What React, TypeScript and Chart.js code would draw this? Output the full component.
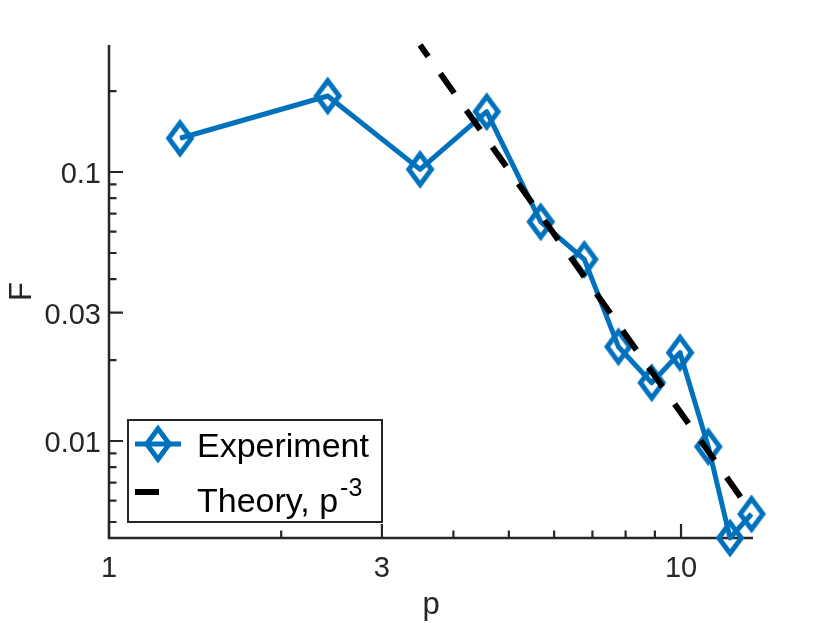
import React, { useEffect, useRef } from "react";
import { Chart, registerables } from "chart.js";

Chart.register(...registerables);

// values (log-log axes)
const pExp = [1.331, 2.412, 3.498, 4.574, 5.685, 6.776, 7.771, 8.888, 9.96, 11.16, 12.18, 13.28];
const fExp = [0.1335, 0.1917, 0.1023, 0.1676, 0.0653, 0.04736, 0.02242, 0.01647, 0.0213, 0.00953, 0.00436, 0.005355];

// theory line p^-3, end points as read
const pTheory = [3.498, 13.28];
const fTheory = [0.2966, 0.00543];

const xMajorTicks = [1, 3, 10];
const xMinorTicks = [2, 4, 5, 6, 7, 8, 9];
const yMajorTicks = [0.01, 0.03, 0.1];
const yMinorTicks = [0.005, 0.006, 0.007, 0.008, 0.009, 0.02, 0.04, 0.05, 0.06, 0.07, 0.08, 0.09, 0.2];
const xTickLabels = ["1", "3", "10"];
const yTickLabels = ["0.01", "0.03", "0.1"];

const BLUE = "#0072BD";
const AXIS = "#262626";
const FONT = '"Liberation Sans", Arial, sans-serif';

function makeDiamond(): HTMLCanvasElement {
  const c = document.createElement("canvas");
  c.width = 36;
  c.height = 46;
  const ctx = c.getContext("2d")!;
  ctx.strokeStyle = BLUE;
  ctx.lineWidth = 5;
  ctx.lineJoin = "miter";
  ctx.beginPath();
  ctx.moveTo(18, 23 - 15.3);
  ctx.lineTo(18 + 11.3, 23);
  ctx.lineTo(18, 23 + 15.3);
  ctx.lineTo(18 - 11.3, 23);
  ctx.closePath();
  ctx.stroke();
  return c;
}

const App: React.FC = () => {
  const canvasRef = useRef<HTMLCanvasElement>(null);
  const chartRef = useRef<Chart | null>(null);

  useEffect(() => {
    if (!canvasRef.current) return;
    if (chartRef.current) chartRef.current.destroy();
    const diamond = makeDiamond();

    const axesPlugin = {
      id: "matlabAxes",
      beforeDatasetsDraw(chart: any) {
        const { ctx, chartArea } = chart;
        const xs = chart.scales.x;
        const ys = chart.scales.y;
        const { left, right, top, bottom } = chartArea;
        ctx.save();
        ctx.strokeStyle = AXIS;
        ctx.lineWidth = 2.5;
        ctx.lineCap = "butt";
        ctx.beginPath();
        ctx.moveTo(left, top);
        ctx.lineTo(left, bottom);
        ctx.lineTo(right, bottom);
        ctx.stroke();

        ctx.lineWidth = 2.2;
        ctx.beginPath();
        xMajorTicks.forEach((v) => {
          const px = xs.getPixelForValue(v);
          ctx.moveTo(px, bottom);
          ctx.lineTo(px, bottom - 14);
        });
        xMinorTicks.forEach((v) => {
          const px = xs.getPixelForValue(v);
          ctx.moveTo(px, bottom);
          ctx.lineTo(px, bottom - 7.5);
        });
        yMajorTicks.forEach((v) => {
          const py = ys.getPixelForValue(v);
          ctx.moveTo(left, py);
          ctx.lineTo(left + 14, py);
        });
        yMinorTicks.forEach((v) => {
          const py = ys.getPixelForValue(v);
          ctx.moveTo(left, py);
          ctx.lineTo(left + 7.5, py);
        });
        ctx.stroke();

        ctx.fillStyle = AXIS;
        ctx.font = `29px ${FONT}`;
        ctx.textBaseline = "alphabetic";
        ctx.textAlign = "center";
        xMajorTicks.forEach((v, i) => {
          ctx.fillText(xTickLabels[i], xs.getPixelForValue(v), bottom + 39);
        });
        ctx.textAlign = "right";
        yMajorTicks.forEach((v, i) => {
          ctx.fillText(yTickLabels[i], left - 8, ys.getPixelForValue(v) + 11);
        });

        ctx.font = `31px ${FONT}`;
        ctx.textAlign = "center";
        ctx.fillText("p", (left + right) / 2, bottom + 76);
        ctx.save();
        ctx.translate(31, (top + bottom) / 2);
        ctx.rotate(-Math.PI / 2);
        ctx.fillText("F", 0, 0);
        ctx.restore();
        ctx.restore();
      },
      afterDatasetsDraw(chart: any) {
        const { ctx } = chart;
        ctx.save();
        const bx = 128, by = 420, bw = 254, bh = 102;
        ctx.fillStyle = "#ffffff";
        ctx.fillRect(bx, by, bw, bh);
        ctx.strokeStyle = AXIS;
        ctx.lineWidth = 2;
        ctx.strokeRect(bx, by, bw, bh);

        // Experiment sample
        ctx.strokeStyle = BLUE;
        ctx.lineWidth = 5;
        ctx.beginPath();
        ctx.moveTo(135, 444);
        ctx.lineTo(181, 444);
        ctx.stroke();
        ctx.drawImage(diamond, 158 - diamond.width / 2, 444 - diamond.height / 2);

        // Theory sample
        ctx.strokeStyle = "#000000";
        ctx.lineWidth = 6;
        ctx.beginPath();
        ctx.moveTo(135, 492);
        ctx.lineTo(159, 492);
        ctx.stroke();

        ctx.fillStyle = "#000000";
        ctx.textAlign = "left";
        ctx.textBaseline = "alphabetic";
        ctx.font = `34px ${FONT}`;
        ctx.fillText("Experiment", 197, 457);
        const t = "Theory, p";
        ctx.fillText(t, 197, 512);
        const w = ctx.measureText(t).width;
        ctx.font = `25px ${FONT}`;
        ctx.fillText("-3", 197 + w + 2, 496);
        ctx.restore();
      },
    };

    chartRef.current = new Chart(canvasRef.current, {
      type: "line",
      data: {
        datasets: [
          {
            label: "Experiment",
            data: pExp.map((p, i) => ({ x: p, y: fExp[i] })),
            borderColor: BLUE,
            borderWidth: 5,
            borderJoinStyle: "round",
            pointStyle: diamond as any,
            pointRadius: 15,
            clip: false as any,
            order: 2,
          },
          {
            label: "Theory, p^-3",
            data: pTheory.map((p, i) => ({ x: p, y: fTheory[i] })),
            borderColor: "#000000",
            borderWidth: 6,
            borderDash: [24, 21],
            borderDashOffset: 10,
            pointRadius: 0,
            clip: false as any,
            order: 1,
          },
        ],
      },
      options: {
        animation: false,
        responsive: false,
        layout: { padding: { left: 109, right: 77, top: 45, bottom: 85 } },
        plugins: { legend: { display: false }, tooltip: { enabled: false } },
        scales: {
          x: { type: "logarithmic", min: 1, max: 13.36, display: false },
          y: { type: "logarithmic", min: 0.00436, max: 0.2966, display: false },
        },
      },
      plugins: [axesPlugin],
    });

    return () => {
      chartRef.current?.destroy();
      chartRef.current = null;
    };
  }, []);

  return (
    <div style={{ position: "absolute", left: 0, top: 0, width: 830, height: 623, background: "#fff" }}>
      <canvas ref={canvasRef} width={830} height={623} />
    </div>
  );
};

export default App;
